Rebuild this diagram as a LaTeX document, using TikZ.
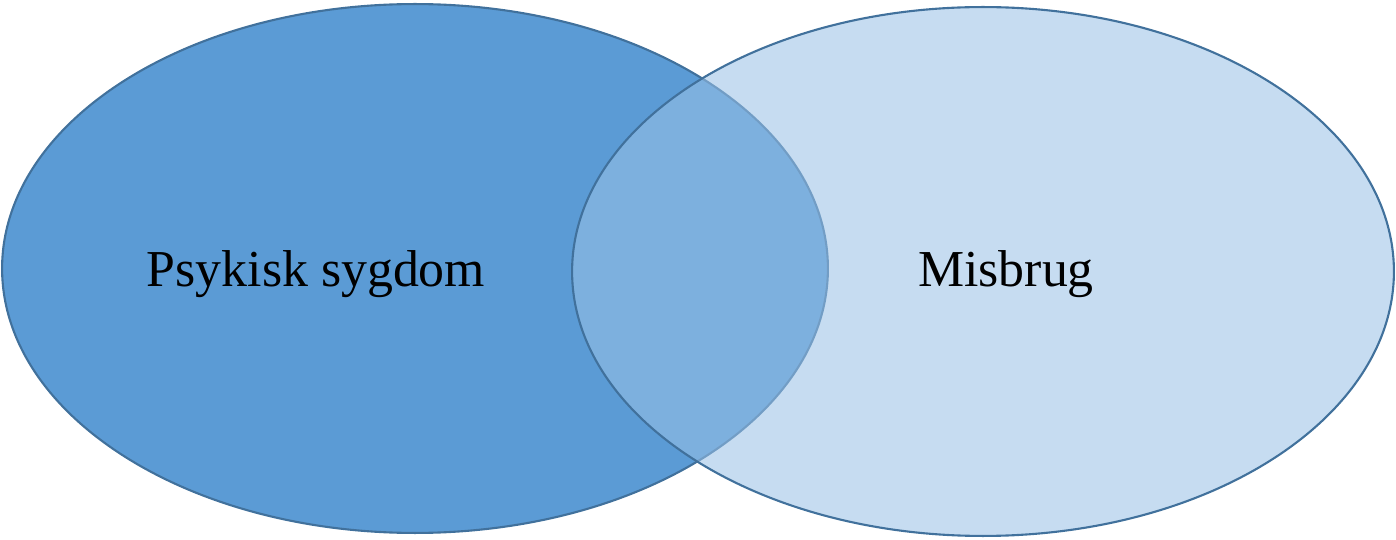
\documentclass[tikz,border=0pt]{standalone}
\usepackage{fontspec}
\setmainfont{Liberation Serif}
\usepackage{tikz}
\usetikzlibrary{shapes.geometric}
\definecolor{darkset}{HTML}{5B9BD5}
\definecolor{lightset}{HTML}{99C1E6}
\definecolor{setline}{HTML}{41719C}
\tikzstyle{set} = [draw=setline,line width=1.2pt,ellipse,inner sep=0pt]
\tikzstyle{label} = [font=\fontsize{29.5}{34}\selectfont,text=black]

\begin{document}
\begin{tikzpicture}[x=0.02cm,y=-0.02cm]
          \useasboundingbox (0,0) rectangle (1396,540);
          \node[set, fill=darkset, minimum width=16.52cm, minimum height=10.58cm] at (415,268.5) (P) {};
          \node[set, fill=lightset, fill opacity=0.56, minimum width=16.44cm, minimum height=10.58cm] at (983,271.5) (M) {};

          \node[label] at (316,274) (Ptext) {Psykisk sygdom};
          \node[label] at (1006,274) (Mtext) {Misbrug};
        \end{tikzpicture}
\end{document}
